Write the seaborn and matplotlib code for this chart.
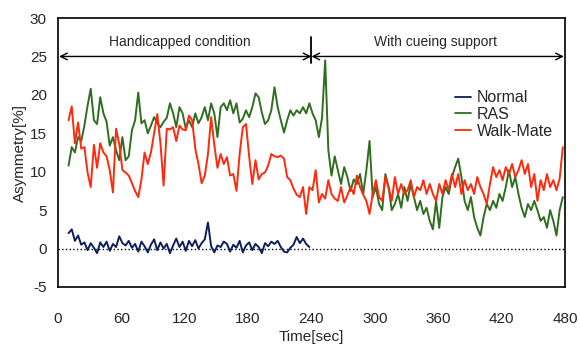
import numpy as np
import pandas as pd
import seaborn as sb
import matplotlib.pyplot as plt

# asymmetry [%] sampled every 3 sec, first sample at t=10
normal = [2.0, 2.5, 1.0, 1.7, 0.5, 0.8, -0.2, 0.7, 0.1, -0.6,
          0.8, 0.2, 0.9, -0.3, 0.6, 0.2, 1.6, 0.7, 0.4, 1.0,
          0.1, 0.6, -0.4, 0.9, 0.3, -0.5, 0.5, 1.2, -0.2, 0.8,
          0.0, 0.6, -0.6, 0.4, 1.3, 0.2, 0.9, -0.3, 1.0, 0.3,
          1.1, 0.0, 0.7, 1.2, 3.4, 0.3, -0.5, 0.4, 0.2, 0.9,
          0.6, -0.4, 0.5, 0.1, 1.0, -0.5, 0.4, 0.8, -0.2, 0.6,
          0.2, -0.6, 0.7, 0.3, 0.9, 0.6, 1.0, 0.2, -0.4, -0.5,
          0.1, 0.5, 1.5, 0.7, 1.3, 0.6, 0.2]

ras = [10.8, 13.2, 12.5, 14.5, 14.0, 16.0, 18.6, 20.8, 16.7, 16.2,
       19.7, 17.6, 16.5, 13.4, 14.5, 12.8, 11.5, 14.5, 11.5, 12.0,
       15.4, 16.7, 20.3, 16.3, 16.7, 15.0, 16.0, 17.1, 16.3, 15.8,
       16.5, 17.0, 18.9, 17.6, 15.8, 18.4, 17.6, 15.6, 16.7, 15.8,
       17.6, 16.3, 17.1, 18.4, 16.7, 18.9, 17.6, 14.5, 18.4, 18.9,
       18.0, 19.3, 17.6, 18.9, 16.4, 16.9, 18.0, 17.1, 18.4, 20.2,
       19.7, 17.7, 16.2, 16.7, 18.0, 21.0, 18.4, 16.7, 15.1, 16.7,
       18.0, 17.3, 18.0, 17.6, 18.4, 17.6, 18.9, 17.6, 16.7, 14.5,
       17.0, 24.5, 12.8, 9.5, 12.0, 10.2, 8.4, 10.6, 9.3, 7.5,
       9.0, 8.4, 9.7, 7.1, 10.2, 14.0, 6.7, 8.0, 5.8, 5.0,
       9.7, 8.0, 5.0, 5.8, 7.1, 5.3, 8.0, 6.2, 8.4, 6.7,
       5.0, 6.2, 4.5, 5.3, 3.6, 2.5, 6.2, 2.7, 6.7, 8.0,
       7.1, 9.3, 10.6, 11.7, 9.3, 6.2, 5.0, 6.7, 4.1, 2.7,
       1.7, 4.1, 5.8, 5.0, 6.2, 5.3, 7.1, 6.2, 8.0, 10.2,
       8.0, 9.3, 7.1, 5.3, 4.1, 5.8, 5.0, 6.2, 5.0, 3.6,
       4.1, 2.7, 5.0, 3.6, 1.7, 5.0, 6.7]

walkmate = [16.7, 18.5, 13.7, 16.4, 13.0, 13.2, 9.9, 8.0, 13.5, 10.5,
            13.7, 12.5, 12.0, 10.2, 7.3, 15.6, 13.6, 10.2, 9.9, 9.5,
            8.5, 7.5, 6.7, 9.0, 12.5, 11.0, 12.5, 15.0, 17.5, 13.7,
            8.2, 15.6, 15.5, 15.8, 14.0, 16.0, 15.5, 15.4, 17.3, 16.7,
            13.0, 11.0, 8.5, 9.5, 12.3, 17.1, 13.5, 10.5, 12.3, 11.0,
            11.9, 9.5, 9.7, 7.5, 12.3, 15.8, 16.2, 12.0, 8.4, 11.5,
            9.0, 9.7, 9.9, 10.8, 12.3, 12.0, 11.9, 12.1, 11.7, 9.3,
            8.9, 7.8, 7.0, 6.7, 8.0, 4.5, 8.0, 7.6, 10.2, 6.0,
            7.1, 6.5, 8.9, 7.1, 6.5, 6.2, 8.0, 6.0, 6.9, 8.0,
            7.1, 9.5, 8.0, 7.0, 6.2, 4.5, 7.1, 8.9, 6.7, 6.2,
            9.3, 8.0, 6.2, 9.3, 7.1, 8.4, 7.1, 7.6, 8.9, 6.7,
            8.0, 7.6, 8.9, 7.1, 8.4, 7.1, 6.2, 8.4, 7.1, 8.9,
            7.6, 9.7, 8.0, 9.7, 7.1, 8.9, 7.6, 8.4, 7.1, 9.3,
            8.0, 7.1, 5.8, 8.4, 10.6, 9.3, 10.2, 8.9, 10.6, 9.7,
            11.0, 9.3, 10.2, 11.5, 9.7, 11.0, 8.0, 9.7, 6.2, 8.9,
            7.6, 9.7, 8.0, 8.9, 7.6, 9.1, 13.2]

series = {'Normal': normal, 'RAS': ras, 'Walk-Mate': walkmate}
colors = {'Normal': '#0f1f5e', 'RAS': '#2f6e1f', 'Walk-Mate': '#ff2a0c'}

frames = []
for name, vals in series.items():
    frames.append(pd.DataFrame({'Time': 10 + 3 * np.arange(len(vals)),
                                'Asymmetry': vals, 'cond': name}))
df = pd.concat(frames, ignore_index=True)

sb.set_theme(style='white')
plt.rcParams['font.family'] = ['Liberation Sans', 'DejaVu Sans']
plt.rcParams['axes.unicode_minus'] = False

fig = plt.figure(figsize=(5.8, 3.47), dpi=100)
ax = fig.add_axes([0.1, 0.173, 0.874, 0.775])

sb.lineplot(data=df, x='Time', y='Asymmetry', hue='cond', palette=colors,
            linewidth=1.4, ax=ax)

ax.axhline(0, color='black', linestyle=':', linewidth=1.0, zorder=0)

# condition arrows
arr = dict(arrowstyle='<->', color='black', lw=1.0, shrinkA=0, shrinkB=0)
ax.annotate('', xy=(1, 25), xytext=(240, 25), arrowprops=arr)
ax.annotate('', xy=(240, 25), xytext=(479, 25), arrowprops=arr)
ax.plot([240, 240], [24.2, 27.5], color='black', lw=1.3)
ax.text(115, 26.9, 'Handicapped condition', ha='center', va='center', fontsize=10)
ax.text(357, 26.9, 'With cueing support', ha='center', va='center', fontsize=10)

ax.set_xlim(0, 480)
ax.set_ylim(-5, 30)
ax.set_xticks(range(0, 481, 60))
ax.set_yticks(range(-5, 31, 5))
ax.tick_params(axis='x', direction='in', length=5, width=1, pad=18, labelsize=11)
ax.tick_params(axis='y', length=0, pad=8, labelsize=11)
for s in ax.spines.values():
    s.set_color('black')
    s.set_linewidth(1.2)

ax.set_xlabel('Time[sec]', fontsize=11, labelpad=3)
ax.set_ylabel('Asymmetry[%]', fontsize=11, labelpad=2)

leg = ax.legend(loc='upper left', bbox_to_anchor=(0.77, 0.755), frameon=False,
                handlelength=1.0, handletextpad=0.4, labelspacing=0.1,
                fontsize=11.5, borderaxespad=0)
for line in leg.get_lines():
    line.set_linewidth(1.3)

plt.savefig('out.png', dpi=100)
